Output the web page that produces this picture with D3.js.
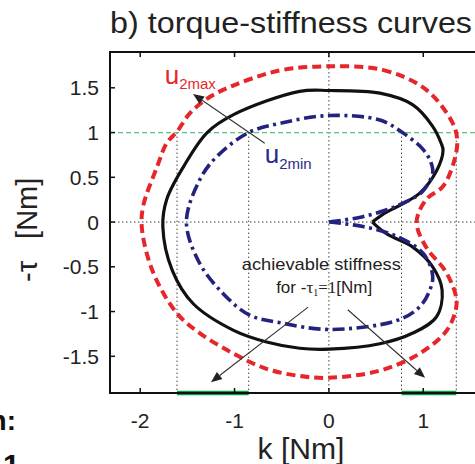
<!DOCTYPE html>
<html>
<head>
<meta charset="utf-8">
<script src="https://cdn.jsdelivr.net/npm/d3@7"></script>
<style>
  html, body { margin: 0; padding: 0; background: #fff; }
  svg { display: block; }
  text { font-family: "Liberation Sans", Arial, Helvetica, sans-serif; }
</style>
</head>
<body>
<svg id="chart" width="475" height="464"></svg>
<script>
// Torque-stiffness curves: stiffness k [Nm] on x, -tau [Nm] on y
const xTicks = [-2, -1, 0, 1];
const yTicks = [-1.5, -1, -0.5, 0, 0.5, 1, 1.5];

// u2max boundary (red dashed), closed loop
const u2maxK   = [0, 0.57, 1.03, 1.31, 1.36, 1.33, 1.21, 1.03, 0.93, 1.03, 1.23, 1.34, 1.35, 1.25, 0.96, 0.54, 0, -0.31, -0.66, -1.01, -1.37, -1.61, -1.86, -1.98, -1.97, -1.82, -1.72, -1.61, -1.47, -1.26, -1.05, -0.80, -0.49];
const u2maxTau = [1.74, 1.70, 1.48, 1.11, 0.92, 0.69, 0.40, 0.25, 0.0, -0.28, -0.54, -0.80, -0.95, -1.21, -1.47, -1.66, -1.74, -1.72, -1.64, -1.47, -1.24, -1.02, -0.57, -0.09, 0.17, 0.62, 0.88, 1.01, 1.22, 1.40, 1.51, 1.61, 1.70];

// Nominal curve (black solid), starting and ending at the notch tip
const nominalK   = [0.46, 0.61, 0.72, 0.96, 1.14, 1.21, 1.19, 1.10, 0.89, 0.54, 0, -0.31, -1.01, -1.29, -1.54, -1.72, -1.76, -1.66, -1.44, -1.01, -0.66, -0.31, 0, 0.54, 0.89, 1.14, 1.20, 1.10, 0.89, 0.61, 0.46];
const nominalTau = [0.0, 0.11, 0.17, 0.32, 0.57, 0.80, 0.88, 1.07, 1.31, 1.44, 1.47, 1.46, 1.20, 1.0, 0.62, 0.25, -0.05, -0.54, -0.91, -1.21, -1.34, -1.41, -1.42, -1.36, -1.24, -1.06, -0.76, -0.50, -0.28, -0.13, 0.0];

// u2min boundary (blue dash-dot), starting and ending at the origin cusp
const u2minK   = [0, 0.36, 0.72, 0.99, 1.10, 1.08, 1.0, 0.78, 0.54, 0, -0.49, -0.85, -1.19, -1.37, -1.51, -1.37, -1.12, -0.84, -0.49, 0, 0.72, 0.96, 1.07, 1.10, 1.0, 0.72, 0.36, 0];
const u2minTau = [0, 0.06, 0.18, 0.34, 0.55, 0.67, 0.81, 1.0, 1.14, 1.19, 1.11, 1.0, 0.73, 0.47, 0.0, -0.46, -0.80, -1.04, -1.13, -1.20, -1.10, -0.95, -0.76, -0.60, -0.35, -0.16, -0.05, 0];

// Reference torque and the achievable stiffness intervals at that torque
const refTau = 1;
const achievableLeft  = [-1.61, -0.85];
const achievableRight = [0.77, 1.35];

const svg = d3.select("#chart");
const x = d3.scaleLinear().domain([-2.32, 1.75]).range([110, 494]);
const y = d3.scaleLinear().domain([-1.91, 1.90]).range([393, 52]);

const zip = (ks, ts) => ks.map((k, i) => [k, ts[i]]);
const line = d3.line().x(d => x(d[0])).y(d => y(d[1]));

// Title
svg.append("text")
  .attr("x", 110).attr("y", 33)
  .attr("font-size", 29).attr("fill", "#222")
  .attr("textLength", 362).attr("lengthAdjust", "spacingAndGlyphs")
  .text("b) torque-stiffness curves");

const plot = svg.append("g");

// Zero reference lines (dotted)
plot.append("line")
  .attr("x1", x(0)).attr("x2", x(0)).attr("y1", y.range()[1]).attr("y2", y.range()[0])
  .attr("stroke", "#444").attr("stroke-width", 1).attr("stroke-dasharray", "1.5,2.5");
plot.append("line")
  .attr("x1", x.range()[0]).attr("x2", x.range()[1]).attr("y1", y(0)).attr("y2", y(0))
  .attr("stroke", "#444").attr("stroke-width", 1).attr("stroke-dasharray", "1.5,2.5");

// Vertical dotted drop lines at the interval bounds
plot.selectAll("line.drop")
  .data(achievableLeft.concat(achievableRight))
  .join("line")
  .attr("class", "drop")
  .attr("x1", d => x(d)).attr("x2", d => x(d))
  .attr("y1", y(refTau)).attr("y2", y.range()[0])
  .attr("stroke", "#444").attr("stroke-width", 1).attr("stroke-dasharray", "1.5,2.5");

// Reference torque line (green dashed)
plot.append("line")
  .attr("x1", x.range()[0]).attr("x2", x.range()[1]).attr("y1", y(refTau)).attr("y2", y(refTau))
  .attr("stroke", "#5cc07e").attr("stroke-width", 1.3).attr("stroke-dasharray", "5,3");

// Curves
plot.append("path")
  .attr("d", line.curve(d3.curveCatmullRomClosed.alpha(0.5))(zip(u2maxK, u2maxTau)))
  .attr("fill", "none").attr("stroke", "#e6262b").attr("stroke-width", 4)
  .attr("stroke-dasharray", "9,5");

plot.append("path")
  .attr("d", line.curve(d3.curveCatmullRom.alpha(0.5))(zip(nominalK, nominalTau)))
  .attr("fill", "none").attr("stroke", "#111").attr("stroke-width", 3.2);

plot.append("path")
  .attr("d", line.curve(d3.curveCatmullRom.alpha(0.5))(zip(u2minK, u2minTau)))
  .attr("fill", "none").attr("stroke", "#23237f").attr("stroke-width", 3.6)
  .attr("stroke-dasharray", "12,4.5,3,4.5");

// Axes frame
const axisG = svg.append("g").attr("stroke", "#111").attr("stroke-width", 2);
axisG.append("line").attr("x1", x.range()[0]).attr("x2", x.range()[1]).attr("y1", y.range()[0]).attr("y2", y.range()[0]);
axisG.append("line").attr("x1", x.range()[0]).attr("x2", x.range()[1]).attr("y1", y.range()[1]).attr("y2", y.range()[1]);
axisG.append("line").attr("x1", x.range()[0]).attr("x2", x.range()[0]).attr("y1", y.range()[0] + 1).attr("y2", y.range()[1] - 1);

// Achievable stiffness intervals on the k axis (green)
plot.selectAll("line.range")
  .data([achievableLeft, achievableRight])
  .join("line")
  .attr("class", "range")
  .attr("x1", d => x(d[0])).attr("x2", d => x(d[1]))
  .attr("y1", y.range()[0]).attr("y2", y.range()[0])
  .attr("stroke", "#0f9a48").attr("stroke-width", 4.5);

// Inward ticks
const tickG = svg.append("g").attr("stroke", "#111").attr("stroke-width", 1.5);
xTicks.forEach(t => {
  tickG.append("line").attr("x1", x(t)).attr("x2", x(t)).attr("y1", y.range()[0]).attr("y2", y.range()[0] - 5);
  tickG.append("line").attr("x1", x(t)).attr("x2", x(t)).attr("y1", y.range()[1]).attr("y2", y.range()[1] + 5);
});
yTicks.forEach(t => {
  tickG.append("line").attr("x1", x.range()[0]).attr("x2", x.range()[0] + 5).attr("y1", y(t)).attr("y2", y(t));
});

// Tick labels
svg.selectAll("text.xt").data(xTicks).join("text")
  .attr("class", "xt")
  .attr("x", d => x(d)).attr("y", 428)
  .attr("text-anchor", "middle").attr("font-size", 21).attr("fill", "#222")
  .text(d => d);
svg.selectAll("text.yt").data(yTicks).join("text")
  .attr("class", "yt")
  .attr("x", 99).attr("y", d => y(d)).attr("dy", "0.36em")
  .attr("text-anchor", "end").attr("font-size", 21).attr("fill", "#222")
  .text(d => d);

// Axis titles
svg.append("text")
  .attr("x", 301).attr("y", 459)
  .attr("text-anchor", "middle").attr("font-size", 29).attr("fill", "#222")
  .attr("textLength", 87).attr("lengthAdjust", "spacingAndGlyphs")
  .text("k [Nm]");

const yLab = svg.append("text")
  .attr("transform", "translate(37,282) rotate(-90)")
  .attr("font-size", 29).attr("fill", "#222");
yLab.append("tspan").text("-τ");
yLab.append("tspan").attr("dx", 22).text("[Nm]");

// Curve labels
const lab1 = svg.append("text").attr("x", x(-1.74)).attr("y", y(1.54)).attr("fill", "#e6262b");
lab1.append("tspan").attr("font-size", 26).text("u");
lab1.append("tspan").attr("font-size", 15).attr("dy", 5).text("2max");

const lab2 = svg.append("text").attr("x", x(-0.68)).attr("y", y(0.66)).attr("fill", "#2a2a88");
lab2.append("tspan").attr("font-size", 26).text("u");
lab2.append("tspan").attr("font-size", 15).attr("dy", 6).text("2min");

// Arrow helper
function arrow(from, to) {
  const x0 = x(from[0]), y0 = y(from[1]), x1 = x(to[0]), y1 = y(to[1]);
  const ang = Math.atan2(y1 - y0, x1 - x0);
  const len = 11, half = 4.5;
  const bx = x1 - len * Math.cos(ang), by = y1 - len * Math.sin(ang);
  svg.append("line").attr("x1", x0).attr("y1", y0).attr("x2", bx).attr("y2", by)
    .attr("stroke", "#333").attr("stroke-width", 1.1);
  svg.append("path")
    .attr("d", `M${x1},${y1} L${bx - half * Math.sin(ang)},${by + half * Math.cos(ang)} L${bx + half * Math.sin(ang)},${by - half * Math.cos(ang)} Z`)
    .attr("fill", "#222");
}
arrow([-0.68, 0.88], [-1.44, 1.43]);
arrow([-0.22, -0.95], [-1.25, -1.79]);
arrow([0.20, -0.98], [1.02, -1.74]);

// Annotation for the achievable stiffness
svg.append("text")
  .attr("x", x(-0.08)).attr("y", y(-0.535))
  .attr("text-anchor", "middle").attr("font-size", 17).attr("fill", "#222")
  .attr("textLength", 159).attr("lengthAdjust", "spacingAndGlyphs")
  .text("achievable stiffness");

const ann2 = svg.append("text")
  .attr("x", x(-0.05)).attr("y", y(-0.79))
  .attr("text-anchor", "middle").attr("font-size", 17).attr("fill", "#222");
ann2.append("tspan").text("for -");
ann2.append("tspan").attr("font-family", "Liberation Serif, Times New Roman, serif").text("τ");
ann2.append("tspan").attr("font-family", "Liberation Serif, Times New Roman, serif").attr("font-size", 10).attr("dy", 3).text("1");
ann2.append("tspan").attr("font-family", "Liberation Serif, Times New Roman, serif").attr("dy", -3).text("=1");
ann2.append("tspan").text("[Nm]");

// Neighbouring panel text at the left edge
svg.append("text").attr("x", 16).attr("y", 430).attr("text-anchor", "end")
  .attr("font-size", 28).attr("font-weight", "bold").attr("fill", "#111").text("n:");
svg.append("text").attr("x", 3).attr("y", 475)
  .attr("font-size", 30).attr("font-weight", "bold").attr("fill", "#111").text("1");
</script>
</body>
</html>
